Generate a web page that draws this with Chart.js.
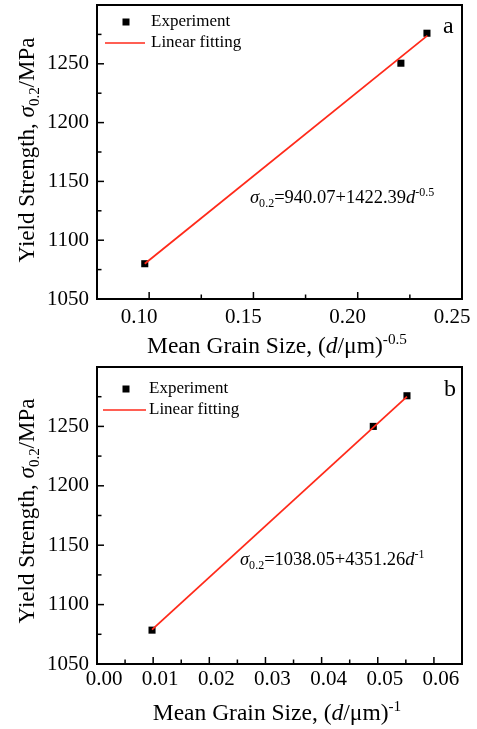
<!DOCTYPE html>
<html>
<head>
<meta charset="utf-8">
<script src="https://cdn.jsdelivr.net/npm/chart.js@4.4.1/dist/chart.umd.min.js"></script>
<style>
  body { margin: 0; background: #fff; }
  .wrap { position: relative; width: 477px; height: 729px; }
  canvas { position: absolute; left: 0; }
</style>
</head>
<body>
<div class="wrap">
  <canvas id="chartA" width="477" height="360" style="top:0"></canvas>
  <canvas id="chartB" width="477" height="369" style="top:360px"></canvas>
</div>
<script>
// panel a : sigma vs d^-0.5
const expXA = [0.0979, 0.2207, 0.2332];
const expYA = [1080, 1250.5, 1276];
const fitXA = [0.0979, 0.2334];
const fitYA = [1080, 1274];
const xTicksA = [0.10, 0.15, 0.20, 0.25];

// panel b : sigma vs d^-1
const expXB = [0.0098, 0.0492, 0.0552];
const expYB = [1078.5, 1250, 1275.8];
const fitXB = [0.0098, 0.0552];
const fitYB = [1079, 1275];
const xTicksB = [0.00, 0.01, 0.02, 0.03, 0.04, 0.05, 0.06];

const yTicks = [1050, 1100, 1150, 1200, 1250, 1300];

const FONT = "'Liberation Serif', 'Times New Roman', serif";
const RED = '#ff2a1a';

// draws text made of pieces (italic / sub / sup) starting at x, baseline y
function drawRich(ctx, parts, x, y, size) {
  let cx = x;
  parts.forEach((p) => {
    const s = (p.sub || p.sup) ? size * 0.65 : size;
    ctx.font = (p.it ? 'italic ' : '') + s + 'px ' + FONT;
    let dy = 0;
    if (p.sub) dy = size * 0.22;
    if (p.sup) dy = -size * 0.4;
    ctx.fillText(p.t, cx, y + dy);
    cx += ctx.measureText(p.t).width;
  });
  return cx - x;
}

function richWidth(ctx, parts, size) {
  let w = 0;
  parts.forEach((p) => {
    const s = (p.sub || p.sup) ? size * 0.65 : size;
    ctx.font = (p.it ? 'italic ' : '') + s + 'px ' + FONT;
    w += ctx.measureText(p.t).width;
  });
  return w;
}

const yTitle = [{ t: 'Yield Strength, ' }, { t: 'σ', it: true }, { t: '0.2', sub: true }, { t: '/MPa' }];

const decorPlugin = {
  id: 'decor',
  afterDraw(chart) {
    const o = chart.options.plugins.decor;
    const { ctx, chartArea: a, scales: { x, y } } = chart;
    ctx.save();
    ctx.fillStyle = '#000';
    ctx.strokeStyle = '#000';

    // frame
    ctx.lineWidth = 2;
    ctx.strokeRect(a.left, a.top, a.right - a.left, a.bottom - a.top);

    // inward ticks, major + minor
    ctx.lineWidth = 1.5;
    const xt = o.xTicks;
    const xs = xt[1] - xt[0];
    for (let v = xt[0] - xs; v <= x.max + 1e-9; v += xs / 2) {
      const px = x.getPixelForValue(v);
      if (px <= a.left + 1 || px >= a.right - 1) continue;
      const major = Math.abs(((v - xt[0]) / xs) - Math.round((v - xt[0]) / xs)) < 1e-6;
      ctx.beginPath();
      ctx.moveTo(px, a.bottom);
      ctx.lineTo(px, a.bottom - (major ? 7 : 4.5));
      ctx.stroke();
    }
    for (let v = yTicks[0]; v <= y.max; v += 25) {
      const py = y.getPixelForValue(v);
      if (py >= a.bottom - 1 || py <= a.top + 1) continue;
      const major = (v - yTicks[0]) % 50 === 0;
      ctx.beginPath();
      ctx.moveTo(a.left, py);
      ctx.lineTo(a.left + (major ? 7 : 4.5), py);
      ctx.stroke();
    }

    // legend
    const lg = o.legend;
    ctx.fillRect(lg.mx - 3.5, lg.my - 3.5, 7, 7);
    ctx.strokeStyle = RED;
    ctx.lineWidth = 1.5;
    ctx.beginPath();
    ctx.moveTo(lg.lx0, lg.ly);
    ctx.lineTo(lg.lx1, lg.ly);
    ctx.stroke();
    ctx.font = '17px ' + FONT;
    ctx.textBaseline = 'middle';
    ctx.fillText('Experiment', lg.tx, lg.my);
    ctx.fillText('Linear fitting', lg.tx, lg.ly);

    // panel letter
    ctx.textBaseline = 'alphabetic';
    ctx.font = '24px ' + FONT;
    ctx.fillText(o.letter.t, o.letter.x, o.letter.y);

    // fitted equation
    drawRich(ctx, o.eq.parts, o.eq.x, o.eq.y, 18.5);

    // x title
    const xw = richWidth(ctx, o.xTitle.parts, 23.5);
    drawRich(ctx, o.xTitle.parts, o.xTitle.cx - xw / 2, o.xTitle.y, 23.5);

    // y title, rotated
    const yw = richWidth(ctx, yTitle, 23);
    ctx.translate(o.yTitle.x, o.yTitle.cy);
    ctx.rotate(-Math.PI / 2);
    drawRich(ctx, yTitle, -yw / 2, 0, 23);
    ctx.restore();
  },
};

function makeChart(id, p) {
  return new Chart(document.getElementById(id), {
    type: 'scatter',
    data: {
      datasets: [
        {
          type: 'line',
          label: 'Linear fitting',
          data: p.fitX.map((v, i) => ({ x: v, y: p.fitY[i] })),
          borderColor: RED,
          borderWidth: 1.8,
          pointRadius: 0,
          fill: false,
        },
        {
          label: 'Experiment',
          data: p.expX.map((v, i) => ({ x: v, y: p.expY[i] })),
          pointStyle: 'rect',
          pointRadius: 5,
          backgroundColor: '#000',
          borderColor: '#000',
          borderWidth: 0,
        },
      ],
    },
    options: {
      responsive: false,
      animation: false,
      layout: { padding: { top: p.top, right: 15, left: 0, bottom: 0 } },
      scales: {
        x: {
          type: 'linear',
          min: p.xMin,
          max: p.xMax,
          grid: { display: false, drawTicks: false },
          border: { display: false },
          afterBuildTicks: (s) => { s.ticks = p.xTicks.map((v) => ({ value: v })); },
          afterFit: (s) => { s.height = p.xH; s.paddingLeft = 0; s.paddingRight = 0; },
          ticks: {
            autoSkip: false,
            maxRotation: 0,
            padding: p.xPad,
            labelOffset: p.xShift,
            color: '#000',
            font: { family: FONT, size: 21 },
            callback: (v) => Number(v).toFixed(2),
          },
        },
        y: {
          min: 1050,
          max: 1300,
          grid: { display: false, drawTicks: false },
          border: { display: false },
          afterBuildTicks: (s) => { s.ticks = yTicks.map((v) => ({ value: v })); },
          afterFit: (s) => { s.width = 97; s.paddingTop = 0; s.paddingBottom = 0; },
          ticks: {
            padding: 8,
            color: '#000',
            font: { family: FONT, size: 21 },
            callback: (v) => (v === 1300 ? '' : v),
          },
        },
      },
      plugins: {
        legend: { display: false },
        tooltip: { enabled: false },
        decor: p.decor,
      },
    },
    plugins: [decorPlugin],
  });
}

makeChart('chartA', {
  expX: expXA, expY: expYA, fitX: fitXA, fitY: fitYA,
  xMin: 0.075, xMax: 0.25, xTicks: xTicksA,
  top: 4, xH: 61, xPad: 6, xShift: -10,
  decor: {
    xTicks: xTicksA,
    legend: { mx: 126, my: 22, lx0: 105, lx1: 145, ly: 43, tx: 151 },
    letter: { t: 'a', x: 443, y: 33 },
    eq: { x: 250, y: 203, parts: [{ t: 'σ', it: true }, { t: '0.2', sub: true }, { t: '=940.07+1422.39' }, { t: 'd', it: true }, { t: '-0.5', sup: true }] },
    xTitle: { cx: 277, y: 353, parts: [{ t: 'Mean Grain Size, (' }, { t: 'd', it: true }, { t: '/μm)' }, { t: '-0.5', sup: true }] },
    yTitle: { x: 34, cy: 150 },
  },
});

makeChart('chartB', {
  expX: expXB, expY: expYB, fitX: fitXB, fitY: fitYB,
  xMin: 0, xMax: 0.065, xTicks: xTicksB,
  top: 7, xH: 65, xPad: 3, xShift: 7,
  decor: {
    xTicks: xTicksB,
    legend: { mx: 126, my: 29, lx0: 103, lx1: 146, ly: 50, tx: 149 },
    letter: { t: 'b', x: 444, y: 36 },
    eq: { x: 240, y: 205, parts: [{ t: 'σ', it: true }, { t: '0.2', sub: true }, { t: '=1038.05+4351.26' }, { t: 'd', it: true }, { t: '-1', sup: true }] },
    xTitle: { cx: 277, y: 360, parts: [{ t: 'Mean Grain Size, (' }, { t: 'd', it: true }, { t: '/μm)' }, { t: '-1', sup: true }] },
    yTitle: { x: 34, cy: 151 },
  },
});
</script>
</body>
</html>
